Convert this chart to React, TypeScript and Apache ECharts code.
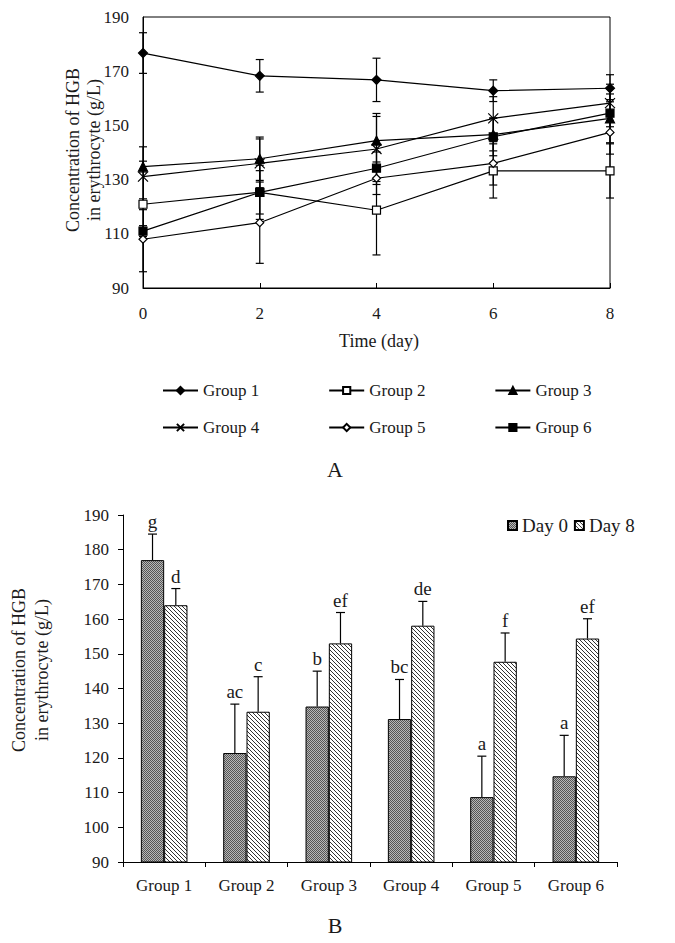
import React, { useEffect, useRef } from "react";
import * as echarts from "echarts";

// ---------- Panel A data ----------
const days = [0, 2, 4, 6, 8];
const group1 = [176.7, 168.3, 166.8, 162.8, 163.7];
const group2 = [120.9, 125.3, 118.7, 133.2, 133.2];
const group3 = [134.8, 137.7, 144.4, 146.6, 152.6];
const group4 = [131.1, 136.0, 141.3, 152.6, 158.2];
const group5 = [108.0, 114.1, 130.5, 136.0, 147.4];
const group6 = [111.0, 125.3, 134.2, 145.8, 154.5];
const group1Err = [7.5, 6, 8, 4, 5];
const group2Err = [2, 8, 16.5, 10, 10];
const group3Err = [2, 8, 10, 6, 9];
const group4Err = [11, 9, 12, 8, 7];
const group5Err = [12, 15, 6, 8, 8];
const group6Err = [2, 10, 6, 7, 5];
const yTicksA = [90, 110, 130, 150, 170, 190];

// ---------- Panel B data ----------
const groupNames = ["Group 1", "Group 2", "Group 3", "Group 4", "Group 5", "Group 6"];
const day0 = [177.0, 121.4, 134.8, 131.2, 108.7, 114.7];
const day0Err = [7.5, 14.1, 10.2, 11.4, 11.8, 11.8];
const day8 = [164.0, 133.3, 153.0, 158.1, 147.7, 154.4];
const day8Err = [4.8, 10.1, 8.9, 7.0, 8.3, 5.7];
const day0Letters = ["g", "ac", "b", "bc", "a", "a"];
const day8Letters = ["d", "c", "ef", "de", "f", "ef"];

const FONT = '"Liberation Serif", "Times New Roman", serif';
const TXT = "#1a1a1a";

function dotPattern() {
  const c = document.createElement("canvas");
  c.width = 4;
  c.height = 4;
  const ctx = c.getContext("2d")!;
  ctx.fillStyle = "#b8b8b8";
  ctx.fillRect(0, 0, 4, 4);
  ctx.fillStyle = "#555555";
  for (let i = 0; i < 4; i++)
    for (let j = 0; j < 4; j++) if ((i + j) % 2 === 0) ctx.fillRect(i, j, 1, 1);
  return c;
}

function hatchPattern() {
  const c = document.createElement("canvas");
  c.width = 4;
  c.height = 4;
  const ctx = c.getContext("2d")!;
  ctx.fillStyle = "#ffffff";
  ctx.fillRect(0, 0, 4, 4);
  ctx.fillStyle = "#333333";
  for (let i = 0; i < 4; i++) ctx.fillRect(i, i, 1, 1);
  return c;
}

const centered = { align: "center", verticalAlign: "middle", textAlign: "center", textVerticalAlign: "middle" };

export default function App() {
  const ref = useRef<HTMLDivElement>(null);

  useEffect(() => {
    if (!ref.current) return;
    const chart = echarts.init(ref.current, undefined, { renderer: "svg" });
    const dots = { image: dotPattern(), repeat: "repeat" } as any;
    const hatch = { image: hatchPattern(), repeat: "repeat" } as any;

    const lineGroups = [
      { name: "Group 1", vals: group1, errs: group1Err, symbol: "diamond", size: 9, fill: "#000" },
      { name: "Group 2", vals: group2, errs: group2Err, symbol: "rect", size: 8, fill: "#fff" },
      { name: "Group 3", vals: group3, errs: group3Err, symbol: "triangle", size: 9, fill: "#000" },
      { name: "Group 4", vals: group4, errs: group4Err, symbol: "path://M0,0L10,10M10,0L0,10", size: 10, fill: "#000" },
      { name: "Group 5", vals: group5, errs: group5Err, symbol: "diamond", size: 8, fill: "#fff" },
      { name: "Group 6", vals: group6, errs: group6Err, symbol: "rect", size: 8, fill: "#000" },
    ];

    const errData: number[][] = [];
    lineGroups.forEach((g) => days.forEach((d, i) => errData.push([d, g.vals[i], g.errs[i]])));

    const lineSeries = lineGroups.map((g) => ({
      type: "line",
      name: g.name,
      xAxisIndex: 0,
      yAxisIndex: 0,
      data: days.map((d, i) => [d, g.vals[i]]),
      symbol: g.symbol,
      symbolSize: g.size,
      showAllSymbol: true,
      itemStyle: { color: g.fill, borderColor: "#000", borderWidth: 1.2 },
      lineStyle: { color: "#000", width: 1.2 },
      z: 5,
    }));

    const barErr = (side: number, letters: string[]) => (params: any, api: any) => {
      const i = api.value(0);
      const v = api.value(1);
      const e = api.value(2);
      const top = api.coord([i, v + e]);
      const base = api.coord([i, v]);
      const bw = api.size([1, 0])[0] * 0.283;
      const x = top[0] + (side * bw) / 2;
      return {
        type: "group",
        children: [
          { type: "line", shape: { x1: x, y1: base[1], x2: x, y2: top[1] }, style: { stroke: "#000", lineWidth: 1.2 } },
          { type: "line", shape: { x1: x - 4.5, y1: top[1], x2: x + 4.5, y2: top[1] }, style: { stroke: "#000", lineWidth: 1.2 } },
          {
            type: "text",
            x: x,
            y: top[1] - 3,
            style: {
              text: letters[params.dataIndex],
              font: `19px ${FONT}`,
              fill: TXT,
              align: "center",
              verticalAlign: "bottom",
              textAlign: "center",
              textVerticalAlign: "bottom",
            },
          },
        ],
      };
    };

    const axisFont = { fontFamily: FONT, fontSize: 17, color: TXT };
    const legendText = { fontFamily: FONT, fontSize: 17, color: TXT };

    const option: any = {
      animation: false,
      backgroundColor: "#fff",
      grid: [
        { left: 143, top: 17, width: 467, height: 271, show: true, borderColor: "#000", borderWidth: 1, backgroundColor: "transparent" },
        { left: 123, top: 515, width: 494, height: 347 },
      ],
      xAxis: [
        {
          gridIndex: 0,
          type: "value",
          min: 0,
          max: 8,
          interval: 2,
          axisLine: { show: true, lineStyle: { color: "#000", width: 1 } },
          axisTick: { show: true, inside: true, length: 5, lineStyle: { color: "#000" } },
          axisLabel: { ...axisFont, margin: 17 },
          splitLine: { show: false },
        },
        {
          gridIndex: 1,
          type: "category",
          data: groupNames,
          axisLine: { show: true, lineStyle: { color: "#000", width: 1 } },
          axisTick: { show: true, length: 5, lineStyle: { color: "#000" } },
          axisLabel: { ...axisFont, margin: 15 },
          splitLine: { show: false },
        },
      ],
      yAxis: [
        {
          gridIndex: 0,
          type: "value",
          min: yTicksA[0],
          max: yTicksA[yTicksA.length - 1],
          interval: 20,
          axisLine: { show: true, lineStyle: { color: "#000", width: 1 } },
          axisTick: { show: false },
          axisLabel: { ...axisFont, margin: 14 },
          splitLine: { show: false },
        },
        {
          gridIndex: 1,
          type: "value",
          min: 90,
          max: 190,
          interval: 10,
          axisLine: { show: true, lineStyle: { color: "#000", width: 1 } },
          axisTick: { show: true, length: 5, lineStyle: { color: "#000" } },
          axisLabel: { ...axisFont, margin: 14 },
          splitLine: { show: false },
        },
      ],
      legend: [
        {
          data: ["Group 1", "Group 2", "Group 3"],
          left: 157,
          top: 377,
          itemWidth: 35,
          itemHeight: 9,
          itemGap: 69,
          selectedMode: false,
          textStyle: legendText,
        },
        {
          data: ["Group 4", "Group 5", "Group 6"],
          left: 157,
          top: 414,
          itemWidth: 35,
          itemHeight: 9,
          itemGap: 69,
          selectedMode: false,
          textStyle: legendText,
        },
        {
          data: ["Day 0", "Day 8"],
          left: 502,
          top: 511,
          itemWidth: 9,
          itemHeight: 9,
          itemGap: 6,
          icon: "rect",
          selectedMode: false,
          textStyle: { fontFamily: FONT, fontSize: 19, color: TXT },
        },
      ],
      series: [
        {
          type: "custom",
          xAxisIndex: 0,
          yAxisIndex: 0,
          data: errData,
          z: 2,
          silent: true,
          renderItem: (params: any, api: any) => {
            const x = api.value(0);
            const v = api.value(1);
            const e = api.value(2);
            const t = api.coord([x, v + e]);
            const b = api.coord([x, v - e]);
            const s = { stroke: "#000", lineWidth: 1.2 };
            return {
              type: "group",
              children: [
                { type: "line", shape: { x1: t[0], y1: t[1], x2: b[0], y2: b[1] }, style: s },
                { type: "line", shape: { x1: t[0] - 4, y1: t[1], x2: t[0] + 4, y2: t[1] }, style: s },
                { type: "line", shape: { x1: b[0] - 4, y1: b[1], x2: b[0] + 4, y2: b[1] }, style: s },
              ],
            };
          },
        },
        ...lineSeries,
        {
          type: "bar",
          name: "Day 0",
          xAxisIndex: 1,
          yAxisIndex: 1,
          data: day0,
          barWidth: "28.3%",
          barGap: "0%",
          itemStyle: { color: dots, borderColor: "#000", borderWidth: 1 },
        },
        {
          type: "bar",
          name: "Day 8",
          xAxisIndex: 1,
          yAxisIndex: 1,
          data: day8,
          barWidth: "28.3%",
          barGap: "0%",
          itemStyle: { color: hatch, borderColor: "#000", borderWidth: 1 },
        },
        {
          type: "custom",
          xAxisIndex: 1,
          yAxisIndex: 1,
          data: day0.map((v, i) => [i, v, day0Err[i]]),
          renderItem: barErr(-1, day0Letters),
          z: 10,
          silent: true,
        },
        {
          type: "custom",
          xAxisIndex: 1,
          yAxisIndex: 1,
          data: day8.map((v, i) => [i, v, day8Err[i]]),
          renderItem: barErr(1, day8Letters),
          z: 10,
          silent: true,
        },
      ],
      graphic: [
        { type: "text", x: 73, y: 150, rotation: Math.PI / 2, style: { text: "Concentration of HGB", font: `18px ${FONT}`, fill: TXT, ...centered } },
        { type: "text", x: 94, y: 150, rotation: Math.PI / 2, style: { text: "in erythrocyte (g/L)", font: `18px ${FONT}`, fill: TXT, ...centered } },
        { type: "text", x: 379, y: 341, style: { text: "Time (day)", font: `18px ${FONT}`, fill: TXT, ...centered } },
        { type: "text", x: 335, y: 469, style: { text: "A", font: `22px ${FONT}`, fill: TXT, ...centered } },
        { type: "text", x: 19, y: 670, rotation: Math.PI / 2, style: { text: "Concentration of HGB", font: `18px ${FONT}`, fill: TXT, ...centered } },
        { type: "text", x: 42, y: 670, rotation: Math.PI / 2, style: { text: "in erythrocyte (g/L)", font: `18px ${FONT}`, fill: TXT, ...centered } },
        { type: "text", x: 335, y: 925, style: { text: "B", font: `22px ${FONT}`, fill: TXT, ...centered } },
      ],
    };

    chart.setOption(option);
    return () => chart.dispose();
  }, []);

  return <div ref={ref} style={{ position: "absolute", left: 0, top: 0, width: 675, height: 943 }} />;
}
